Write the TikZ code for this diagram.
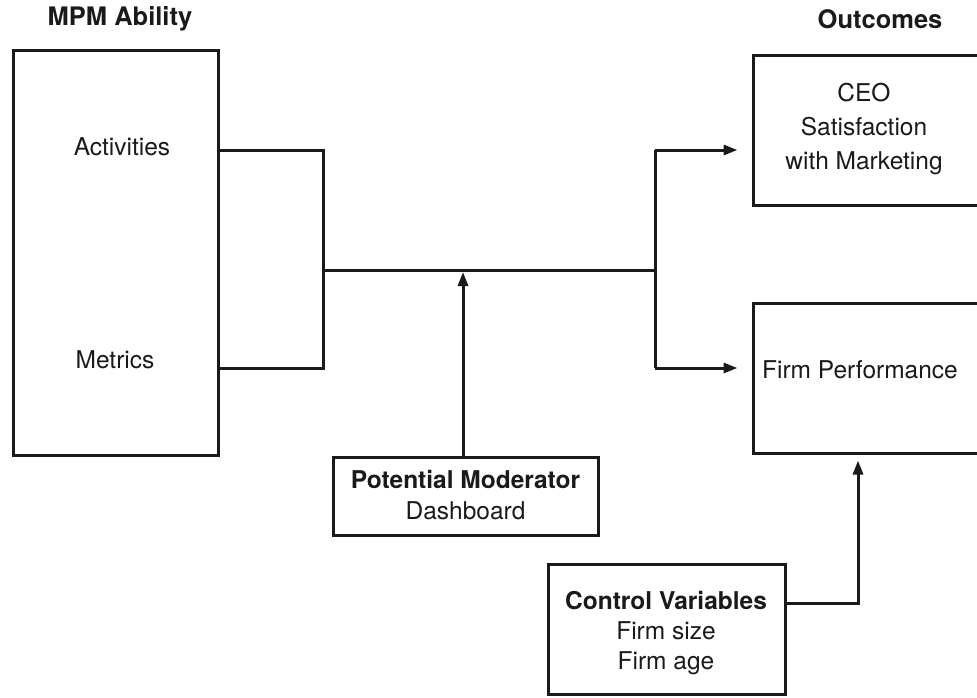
\documentclass[tikz,border=0pt]{standalone}
\usepackage{fontspec}
\setmainfont{TeX Gyre Heros}
\usetikzlibrary{arrows.meta,calc}
\definecolor{ink}{HTML}{1A1A1A}
\begin{document}
\begin{tikzpicture}[x=1pt,y=-1pt,
  font=\fontsize{24.5}{29}\selectfont,
  box/.style={draw=ink,line width=3pt,rectangle,inner sep=0pt},
  lbl/.style={text=ink,align=center,inner sep=0pt},
  ttl/.style={lbl,font=\fontsize{25.5}{30}\selectfont\bfseries},
  conn/.style={draw=ink,line width=3pt},
  arr/.style={conn,-{Triangle[length=14pt,width=10pt]}}]
\useasboundingbox (0,0) rectangle (977,697);
% boxes
\node[box,minimum width=205pt,minimum height=405pt] (mpm) at (115.5,252.5) {};
\node[box,minimum width=226pt,minimum height=150pt] (ceo) at (866,130) {};
\node[box,minimum width=226pt,minimum height=150pt] (perf) at (866,378) {};
\node[box,minimum width=265pt,minimum height=78pt] (mod) at (465.5,496) {};
\node[box,minimum width=237pt,minimum height=130pt] (ctrl) at (666.5,629.5) {};
% titles
\node[ttl] (t1) at (120,19) {MPM Ability};
\node[ttl] (t2) at (880,19) {Outcomes};
% texts
\node[lbl] (act) at (122,147) {Activities};
\node[lbl] (met) at (115,360) {Metrics};
\node[lbl,font=\fontsize{24.5}{34}\selectfont] (ceot) at (864,129) {CEO\\Satisfaction\\with Marketing};
\node[lbl] (perft) at (860,370) {Firm Performance};
\node[lbl,font=\fontsize{24.5}{31}\selectfont] (modt) at (465.5,495) {\textbf{Potential Moderator}\\Dashboard};
\node[lbl,font=\fontsize{24.5}{30}\selectfont] (ctrlt) at (666,633) {\textbf{Control Variables}\\Firm size\\Firm age};
% junction coordinates
\coordinate (bx) at (323,270);
\coordinate (jr) at (655,270);
\coordinate (mx) at (463,270);
% bracket from MPM box
\draw[conn] (mpm.east |- 0,150) -- (bx |- 0,150) -- (bx |- 0,368) -- (mpm.east |- 0,368);
\draw[conn] (bx) -- (jr);
\draw[conn] (jr |- 0,150) -- (jr |- 0,368);
\draw[arr,shorten >=14pt] (jr |- 0,150) -- (ceo.west |- 0,150);
\draw[arr,shorten >=14pt] (jr |- 0,368) -- (perf.west |- 0,368);
% moderator
\draw[arr,shorten >=2pt] (mod.north -| mx) -- (mx);
% control variables
\draw[arr,shorten >=6pt] (ctrl.east |- 0,603) -| (perf.south -| 858,0);
\end{tikzpicture}
\end{document}
